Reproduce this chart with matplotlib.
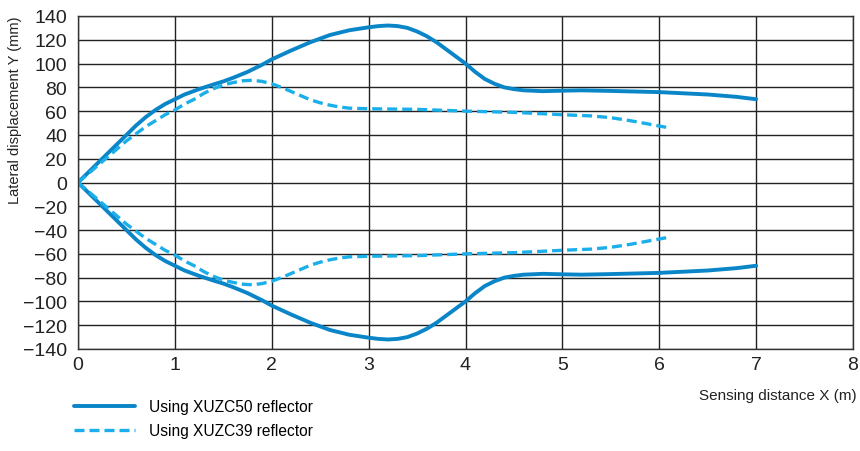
import matplotlib
matplotlib.use("Agg")
import matplotlib.pyplot as plt

# values
x_c50_up = [0, 0.1, 0.2, 0.3, 0.4, 0.5, 0.6, 0.7, 0.8, 0.9, 1.0, 1.1, 1.25, 1.4, 1.5, 1.6,
            1.75, 1.9, 2.0, 2.2, 2.4, 2.6, 2.8, 3.0, 3.1, 3.2, 3.3, 3.4, 3.5, 3.6, 3.7,
            3.8, 3.9, 4.0, 4.1, 4.2, 4.3, 4.4, 4.5, 4.6, 4.8, 5.0, 5.2, 5.5, 6.0, 6.5,
            6.8, 7.0]
y_c50_up = [0, 8, 16, 24, 32, 40, 48, 55, 61, 66, 70, 74, 78.5, 82.5, 85, 88,
            93, 99, 103.5, 111, 118, 124, 128, 130.5, 131.5, 132, 131.5, 130, 127, 123, 118,
            112, 106, 100, 93, 87, 83, 80, 78.5, 77.5, 76.8, 77.2, 77.5, 77, 76, 74,
            72, 70]
x_c39_up = [0, 0.1, 0.2, 0.3, 0.4, 0.5, 0.6, 0.7, 0.8, 0.9, 1.0, 1.1, 1.2, 1.3, 1.4, 1.5,
            1.6, 1.7, 1.8, 1.9, 2.0, 2.1, 2.2, 2.3, 2.4, 2.5, 2.6, 2.7, 2.8, 3.0, 3.5,
            4.0, 4.5, 5.0, 5.3, 5.5, 5.7, 5.9, 6.1]
y_c39_up = [0, 7, 14, 21, 28, 35, 41, 47, 52, 57, 61, 66, 70, 75, 79, 82,
            84, 85.5, 86, 85, 83, 80, 76.5, 73, 69.5, 67, 65, 63.5, 62.5, 62, 61.5,
            60, 59, 57, 56, 54.5, 52, 49, 46]
x_c50_lo = x_c50_up
y_c50_lo = [-v for v in y_c50_up]
x_c39_lo = x_c39_up
y_c39_lo = [-v for v in y_c39_up]

x_ticks = [0, 1, 2, 3, 4, 5, 6, 7, 8]
y_ticks = list(range(-140, 141, 20))

plt.rcParams['font.family'] = ['Liberation Sans', 'DejaVu Sans']

fig = plt.figure(figsize=(8.6, 4.52), dpi=100)
ax = fig.add_axes([78 / 860, 1 - 350 / 452, 775 / 860, 333 / 452])

solid_col = '#0a86c8'
dash_col = '#1aaeea'

ax.plot(x_c50_up, y_c50_up, color=solid_col, lw=2.8, solid_capstyle='round',
        solid_joinstyle='round')
ax.plot(x_c50_lo, y_c50_lo, color=solid_col, lw=2.8, solid_capstyle='round',
        solid_joinstyle='round', label='Using XUZC50 reflector')
ax.plot(x_c39_up, y_c39_up, color=dash_col, lw=2.4, ls=(0, (3, 1.5)))
ax.plot(x_c39_lo, y_c39_lo, color=dash_col, lw=2.4, ls=(0, (3, 1.5)),
        label='Using XUZC39 reflector')

ax.set_xlim(0, 8)
ax.set_ylim(-140, 140)
ax.set_xticks(x_ticks)
ax.set_yticks(y_ticks)
ax.grid(True, color='#222222', lw=1.0)
ax.set_axisbelow(True)
for s in ax.spines.values():
    s.set_color('#333333')
    s.set_linewidth(1.0)
ax.tick_params(length=0, labelsize=14, colors='#222222')
ax.tick_params(axis='y', pad=8)
ax.tick_params(axis='x', pad=5)

fig.text(15 / 860, 1 - 110 / 452, 'Lateral displacement Y (mm)', rotation=90,
         ha='center', va='center', fontsize=10.5, color='#222222')
fig.text(857 / 860, 1 - 396 / 452, 'Sensing distance X (m)', ha='right', va='center',
         fontsize=11, color='#222222')

fig.legend(loc='upper left', bbox_to_anchor=(74 / 860, 1 - 400 / 452), frameon=False,
           fontsize=11.2, handlelength=3.9, handletextpad=0.9, labelspacing=0.6,
           borderaxespad=0, borderpad=0)

fig.savefig('out.png', dpi=100)
